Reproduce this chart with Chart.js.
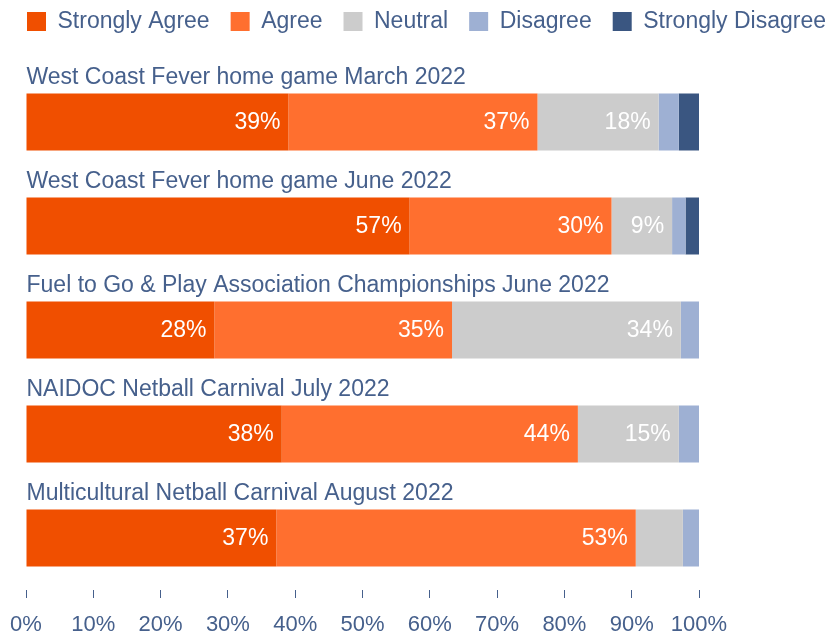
<!DOCTYPE html>
<html>
<head>
<meta charset="utf-8">
<script src="https://cdn.jsdelivr.net/npm/chart.js@4.4.0/dist/chart.umd.min.js"></script>
<style>
  html, body { margin: 0; padding: 0; background: #fff; }
  #wrap { width: 828px; height: 637px; }
</style>
</head>
<body>
<div id="wrap"><canvas id="survey"></canvas></div>
<script>
var events = [
  "West Coast Fever home game March 2022",
  "West Coast Fever home game June 2022",
  "Fuel to Go & Play Association Championships June 2022",
  "NAIDOC Netball Carnival July 2022",
  "Multicultural Netball Carnival August 2022"
]
var responses = ["Strongly Agree", "Agree", "Neutral", "Disagree", "Strongly Disagree"]

var stronglyAgree    = [39, 57, 28, 38, 37.2]
var agree            = [37, 30, 35.3, 44, 53.4]
var neutral          = [18, 9, 34, 15, 7]
var disagree         = [3, 2, 2.7, 3, 2.4]
var stronglyDisagree = [3, 2, 0, 0, 0]

var tickValues = [0, 10, 20, 30, 40, 50, 60, 70, 80, 90, 100]

var colours = ["#f04f00", "#ff6f2f", "#cccccc", "#9eb0d3", "#3a5681"]
var textBlue = "#46608c"
var fontFamily = "'Liberation Sans', Arial, Helvetica, sans-serif"

var series = [stronglyAgree, agree, neutral, disagree, stronglyDisagree]

// event names above each bar, % labels inside the bigger segments
var barText = {
  id: 'barText',
  afterDatasetsDraw: function(chart) {
    var ctx = chart.ctx
    ctx.save()
    var first = chart.getDatasetMeta(0)
    ctx.font = "23px " + fontFamily
    ctx.fillStyle = textBlue
    ctx.textAlign = 'left'
    ctx.textBaseline = 'alphabetic'
    first.data.forEach(function(bar, i) {
      ctx.fillText(events[i], chart.chartArea.left + 0.5, bar.y - bar.height / 2 - 10)
    })
    ctx.fillStyle = '#ffffff'
    ctx.textAlign = 'right'
    ctx.textBaseline = 'middle'
    chart.data.datasets.forEach(function(ds, d) {
      var meta = chart.getDatasetMeta(d)
      meta.data.forEach(function(bar, i) {
        var v = ds.data[i]
        if (v >= 9) {
          ctx.fillText(Math.round(v) + '%', bar.x - 8, bar.y + 1)
        }
      })
    })
    ctx.restore()
  }
}

// hidden axes used only as spacers round the plot
function spacer(pos, size) {
  return {
    type: 'linear',
    position: pos,
    display: true,
    ticks: { display: false },
    grid: { display: false },
    border: { display: false },
    afterFit: function(scale) {
      if (pos === 'left' || pos === 'right') { scale.width = size } else { scale.height = size }
    }
  }
}

var ctx = document.getElementById("survey")
var myChart = new Chart(ctx, {
  type: 'bar',
  data: {
    labels: events,
    datasets: responses.map(function(name, k) {
      return {
        label: name,
        data: series[k],
        backgroundColor: colours[k],
        borderWidth: 0,
        categoryPercentage: 0.548,
        barPercentage: 1
      }
    })
  },
  options: {
    indexAxis: 'y',
    responsive: true,
    maintainAspectRatio: false,
    animation: false,
    // negative right side gives the legend room for one row
    layout: { padding: { left: 6, right: -30, top: -11, bottom: 0 } },
    plugins: {
      tooltip: { enabled: false },
      legend: {
        position: 'top',
        align: 'start',
        labels: {
          boxWidth: 19,
          boxHeight: 19,
          padding: 21,
          color: textBlue,
          font: { size: 23, family: fontFamily }
        }
      }
    },
    scales: {
      x: {
        stacked: true,
        min: 0,
        max: 100,
        afterBuildTicks: function(scale) {
          scale.ticks = tickValues.map(function(v) { return { value: v } })
        },
        afterFit: function(scale) {
          scale.height = 47
          scale.paddingLeft = 0
          scale.paddingRight = 0
        },
        ticks: {
          color: textBlue,
          padding: 14,
          maxRotation: 0,
          font: { size: 22, family: fontFamily },
          callback: function(v) { return v + '%' }
        },
        grid: { drawOnChartArea: false, drawTicks: true, tickLength: 8, color: textBlue },
        border: { display: false }
      },
      y: {
        stacked: true,
        display: true,
        ticks: { display: false },
        grid: { display: false },
        border: { display: false },
        afterFit: function(scale) { scale.width = 20 }
      },
      rightPad: spacer('right', 159),
      topPad: spacer('top', 27)
    }
  },
  plugins: [barText]
})
</script>
</body>
</html>
